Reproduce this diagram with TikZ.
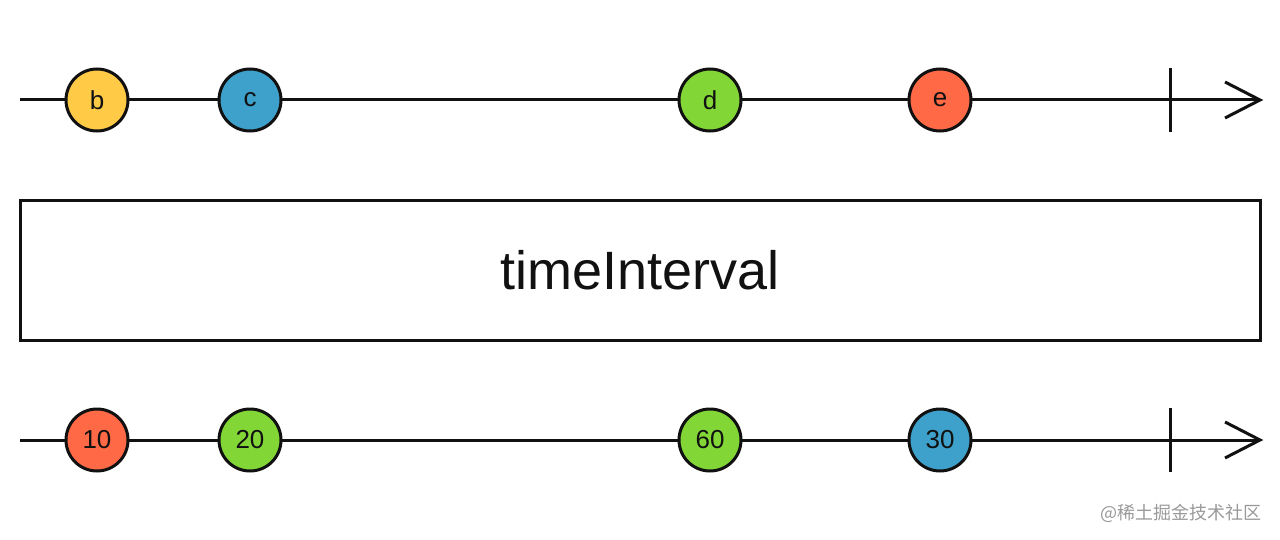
\documentclass[tikz,border=0pt]{standalone}
\usepackage{fontspec}
\setmainfont{Liberation Sans}
\newfontfamily\cjk{Noto Sans CJK SC}
\definecolor{cyellow}{HTML}{FFCB46}
\definecolor{cblue}{HTML}{3EA1CB}
\definecolor{cgreen}{HTML}{82D736}
\definecolor{corange}{HTML}{FF6946}
\definecolor{lineblack}{HTML}{111111}
\begin{document}
\begin{tikzpicture}[x=0.5pt,y=-0.5pt,
  tl/.style={draw=lineblack,line width=1.5pt},
  marble/.style={circle,draw=lineblack,line width=1.5pt,minimum size=31pt,inner sep=0pt,font=\fontsize{13}{13}\selectfont,text=lineblack},
  opbox/.style={draw=lineblack,line width=1.5pt,minimum width=620pt,minimum height=70pt,inner sep=0pt,font=\fontsize{27}{27}\selectfont,text=lineblack}]
\useasboundingbox (0,0) rectangle (1280,540);
% top timeline
\coordinate (t0) at (20,100);
\coordinate (t1) at (1260,100);
\coordinate (tk1) at (1170,68);
\coordinate (tk2) at (1170,132);
\coordinate (ta1) at (1225,82);
\coordinate (ta2) at (1225,118);
\draw[tl] (t0) -- (t1);
\draw[tl] (tk1) -- (tk2);
\draw[tl,line join=miter] (ta1) -- (t1) -- (ta2);
\node[marble,fill=cyellow] (b) at (97,100) {b};
\node[marble,fill=cblue] (c) at (250,100) {c};
\node[marble,fill=cgreen] (d) at (710,100) {d};
\node[marble,fill=corange] (e) at (940,100) {e};
% operator box
\node[opbox] (op) at (640,270) {timeInterval};
% bottom timeline
\coordinate (b0) at (20,440);
\coordinate (b1) at (1260,440);
\coordinate (bk1) at (1170,408);
\coordinate (bk2) at (1170,472);
\coordinate (ba1) at (1225,422);
\coordinate (ba2) at (1225,458);
\draw[tl] (b0) -- (b1);
\draw[tl] (bk1) -- (bk2);
\draw[tl,line join=miter] (ba1) -- (b1) -- (ba2);
\node[marble,fill=corange] (o1) at (97,440) {10};
\node[marble,fill=cgreen] (o2) at (250,440) {20};
\node[marble,fill=cgreen] (o3) at (710,440) {60};
\node[marble,fill=cblue] (o4) at (940,440) {30};
% watermark
\node[anchor=east,text=black!40,font=\cjk\fontsize{9}{9}\selectfont,inner sep=0pt] (wm) at (1262,513) {@稀土掘金技术社区};
\end{tikzpicture}
\end{document}
